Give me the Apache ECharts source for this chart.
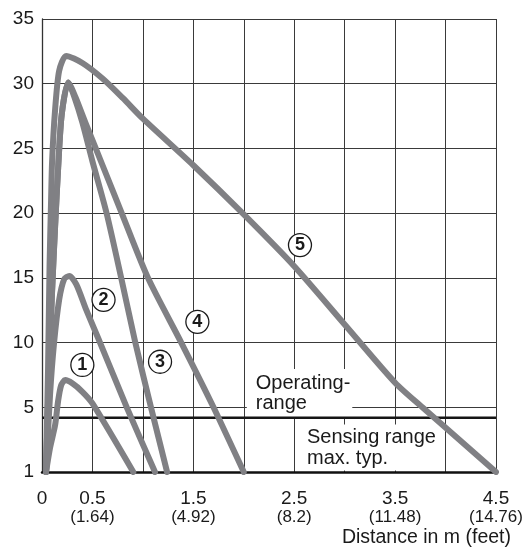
<!DOCTYPE html>
<html>
<head>
<meta charset="utf-8">
<script src="https://cdn.jsdelivr.net/npm/echarts@6/dist/echarts.min.js"></script>
<style>
html,body{margin:0;padding:0;background:#fff;}
#chart{width:528px;height:547px;}
</style>
</head>
<body>
<div id="chart"></div>
<script>
// ---- data (distance in m, value on the printed y scale) ----
const curve1X = [0.04, 0.08, 0.13, 0.16, 0.19, 0.23, 0.30, 0.40, 0.50, 0.905];
const curve1Y = [1, 2.5, 3.9, 5.5, 6.7, 7.1, 6.85, 6.2, 5.3, 1];

const curve2X = [0.04, 0.08, 0.12, 0.17, 0.22, 0.27, 0.34, 0.44, 0.575, 0.84, 1.12];
const curve2Y = [1, 6, 10, 13.3, 14.9, 15.15, 14.5, 12.5, 10, 5, 1];

const curve3X = [0.04, 0.07, 0.10, 0.13, 0.16, 0.195, 0.26, 0.32, 0.40, 0.50, 0.64, 0.785, 0.925, 1.08, 1.24];
const curve3Y = [1, 8, 14, 19, 23.5, 27.6, 30.1, 29, 27, 24, 20, 15, 10, 5, 1];

const curve4X = [0.04, 0.07, 0.10, 0.13, 0.16, 0.195, 0.26, 0.33, 0.43, 0.60, 0.79, 1.05, 1.38, 1.70, 2.0];
const curve4Y = [1, 8, 14, 19, 23.5, 27.6, 30.1, 29, 27, 23.7, 20, 15, 10, 5, 1];

const curve5X = [0.04, 0.06, 0.075, 0.09, 0.10, 0.13, 0.17, 0.24, 0.40, 0.60, 0.80, 1.0, 1.5, 2.0, 2.5, 3.0, 3.5, 3.77, 4.5];
const curve5Y = [1, 8, 16, 21, 24, 28, 31, 32.15, 31.6, 30.4, 28.9, 27.3, 23.7, 19.9, 15.9, 11.4, 6.9, 5, 1];

const operatingLimit = 4.35;

const curveNames = ['1', '2', '3', '4', '5'];
const curveLabelX = [0.40, 0.61, 1.17, 1.54, 2.557];
const curveLabelY = [8.27, 13.3, 8.52, 11.6, 17.53];

const xLabelValues = [0, 0.5, 1.5, 2.5, 3.5, 4.5];
const xLabelMeters = ['0', '0.5', '1.5', '2.5', '3.5', '4.5'];
const xLabelFeet = ['', '(1.64)', '(4.92)', '(8.2)', '(11.48)', '(14.76)'];
const yTickLabels = ['1', '5', '10', '15', '20', '25', '30', '35'];

const operatingText = 'Operating-\nrange';
const operatingPos = [2.03, 6.1];
const sensingText = 'Sensing range\nmax. typ.';
const sensingPos = [2.557, 2.51];
const axisTitle = 'Distance in m (feet)';

// printed scale: 1..5 occupies the same height as 5..10
function disp(v) { return v >= 5 ? v : 5 - (5 - v) * 5 / 4; }
function pts(xs, ys) { return xs.map((x, i) => [x, disp(ys[i])]); }

const FONT = 'Liberation Sans';
const curveColor = '#808084';
const curves = [[curve1X, curve1Y], [curve2X, curve2Y], [curve3X, curve3Y], [curve4X, curve4Y], [curve5X, curve5Y]];

const series = [];
// text boxes (white background hides grid lines)
series.push({
  type: 'scatter', z: 2, symbolSize: 0, silent: true, itemStyle: {opacity: 1},
  data: [[operatingPos[0], disp(operatingPos[1])]],
  label: {show: true, position: 'right', distance: 0, formatter: operatingText,
    fontFamily: FONT, fontSize: 20, lineHeight: 20, color: '#1a1a1a', align: 'left',
    backgroundColor: '#fff', padding: [4, 2, 4, 9]}
});
series.push({
  type: 'scatter', z: 2, symbolSize: 0, silent: true, itemStyle: {opacity: 1},
  data: [[sensingPos[0], disp(sensingPos[1])]],
  label: {show: true, position: 'right', distance: 0, formatter: sensingText,
    fontFamily: FONT, fontSize: 20, lineHeight: 21, color: '#1a1a1a', align: 'left',
    backgroundColor: '#fff', padding: [2, 5, 2, 7]}
});
// operating range limit line
series.push({
  type: 'line', z: 3, symbol: 'none', silent: true,
  data: [[0, disp(operatingLimit)], [4.5, disp(operatingLimit)]],
  lineStyle: {color: '#151515', width: 2.5}
});
curves.forEach((c, i) => {
  series.push({
    type: 'line', z: 4, symbol: 'none', silent: true,
    smooth: 0.25,
    data: pts(c[0], c[1]),
    lineStyle: {color: curveColor, width: 6, cap: 'round', join: 'round'}
  });
});
series.push({
  type: 'scatter', z: 6, silent: true, symbol: 'circle', symbolSize: 23,
  itemStyle: {color: '#fff', borderColor: '#1a1a1a', borderWidth: 1.3, opacity: 1},
  data: curveNames.map((n, i) => ({value: [curveLabelX[i], disp(curveLabelY[i])], name: n})),
  label: {show: true, position: 'inside', formatter: p => p.name,
    fontFamily: FONT, fontWeight: 'bold', fontSize: 18, color: '#1a1a1a'}
});

const chart = echarts.init(document.getElementById('chart'), null, {renderer: 'canvas'});
chart.setOption({
  animation: false,
  backgroundColor: '#fff',
  grid: {left: 42, right: 32, top: 19, bottom: 75, containLabel: false},
  title: {text: axisTitle, right: 12, top: 523,
    textStyle: {fontFamily: FONT, fontSize: 19.5, fontWeight: 'normal', color: '#1a1a1a'}},
  xAxis: {
    type: 'value', min: 0, max: 4.5, interval: 0.5,
    axisLine: {show: true, lineStyle: {color: '#111', width: 2.5}},
    axisTick: {show: false},
    splitLine: {show: true, lineStyle: {color: '#3a3a3a', width: 1}},
    axisLabel: {
      show: true, margin: 17, showMinLabel: true, showMaxLabel: true,
      formatter: v => {
        const k = xLabelValues.findIndex(t => Math.abs(t - v) < 1e-6);
        if (k < 0) return '';
        return xLabelFeet[k] ? '{a|' + xLabelMeters[k] + '}\n{b|' + xLabelFeet[k] + '}' : '{a|' + xLabelMeters[k] + '}';
      },
      rich: {
        a: {fontFamily: FONT, fontSize: 19, lineHeight: 19, color: '#1a1a1a'},
        b: {fontFamily: FONT, fontSize: 17, lineHeight: 18, color: '#1a1a1a'}
      }
    }
  },
  yAxis: {
    type: 'value', min: 0, max: 35, interval: 5,
    axisLine: {show: true, lineStyle: {color: '#333', width: 1.3}},
    axisTick: {show: false},
    splitLine: {show: true, lineStyle: {color: '#3a3a3a', width: 1}},
    axisLabel: {margin: 8, fontFamily: FONT, fontSize: 19, color: '#1a1a1a',
      formatter: v => yTickLabels[Math.round(v / 5)]}
  },
  series: series
});
</script>
</body>
</html>
